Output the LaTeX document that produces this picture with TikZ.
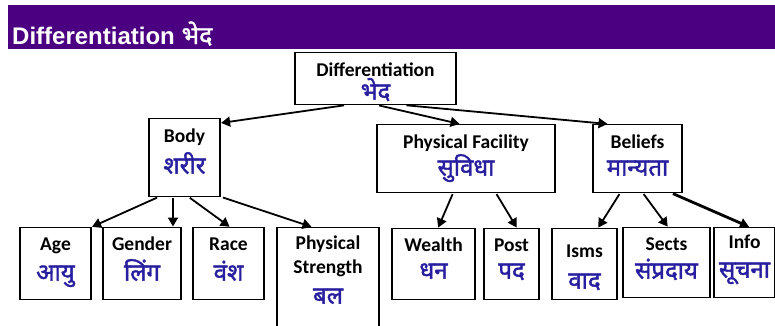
\documentclass[tikz,border=0pt]{standalone}
\usepackage{fontspec}
\setmainfont{Carlito}
\newfontfamily\titlefont{Liberation Sans}
\newfontfamily\hindifont[Script=Devanagari,FakeBold=1.6]{Noto Sans}
\usetikzlibrary{arrows.meta,calc}
\definecolor{barpurple}{RGB}{75,0,130}
\definecolor{hindiblue}{RGB}{40,30,160}
\newcommand{\hin}[1]{{\hindifont\fontsize{24}{0}\selectfont\color{hindiblue}#1}}
\newcommand{\boxfont}{\fontsize{19.5}{0}\selectfont\bfseries\lineskiplimit=-\maxdimen}
\tikzset{
    box/.style =    {rectangle,
                    fill=white,
                    draw=black,
                    text=black,
                    line width=1.2pt,
                    align=center,
                    anchor=north,
                    inner xsep=0pt,
                    inner ysep=0pt,
                    font=\boxfont},
    heading/.style ={anchor=base west,
                    inner sep=0pt,
                    text=white,
                    font=\titlefont\fontsize{24}{28}\selectfont\bfseries},
    link/.style =   {line width=1.8pt,
                    ->},
    -,
    >={Triangle[length=9pt,width=10pt]},
    shorten >= 0.5pt,
    shorten <= 1pt}

\begin{document}
\begin{tikzpicture}[x=1pt,y=-1pt]
    \useasboundingbox (0,0) rectangle (775,325);
    \clip (0,0) rectangle (775,325);
    \fill[barpurple] (8,5) rectangle (775,49);
    \node[heading]  (T)         at (12,44)      {Differentiation {\hindifont\fontsize{25}{28}\selectfont भेद}};
    % top level
    \node[box, minimum width=161, text height=47, text depth=5]  (root)     at (375.5,52)   {Differentiation\\[23pt]\hin{भेद}};
    \node[box, minimum width=71,  text height=55, text depth=23] (body)     at (184.5,118)  {Body\\[31pt]\hin{शरीर}};
    \node[box, minimum width=178, text height=51, text depth=17] (facility) at (466,124)    {Physical Facility\\[27pt]\hin{सुविधा}};
    \node[box, minimum width=89,  text height=51, text depth=17] (beliefs)  at (637.5,124)  {Beliefs\\[27pt]\hin{मान्यता}};
    % bottom row
    \node[box, minimum width=71,  text height=53, text depth=19] (age)      at (55.5,227)   {Age\\[30pt]\hin{आयु}};
    \node[box, minimum width=78,  text height=53, text depth=19] (gender)   at (142,227)    {Gender\\[30pt]\hin{लिंग}};
    \node[box, minimum width=71,  text height=53, text depth=19] (race)     at (228.5,227)  {Race\\[30pt]\hin{वंश}};
    \node[box, minimum width=102, text height=76, text depth=37] (strength) at (328,227)    {Physical\\[24pt]Strength\\[30pt]\hin{बल}};
    \node[box, minimum width=83,  text height=50, text depth=21] (wealth)   at (433.5,228)  {Wealth\\[27pt]\hin{धन}};
    \node[box, minimum width=55,  text height=50, text depth=21] (post)     at (511.5,228)  {Post\\[27pt]\hin{पद}};
    \node[box, minimum width=65,  text height=60, text depth=11] (isms)     at (584.5,228)  {Isms\\[31pt]\hin{वाद}};
    \node[box, minimum width=87,  text height=51, text depth=19] (sects)    at (666.5,227)  {Sects\\[28pt]\hin{संप्रदाय}};
    \node[box, minimum width=61,  text height=50, text depth=20] (info)     at (744.5,227)  {Info\\[29pt]\hin{सूचना}};
    \path [link]    ([xshift=-30.5]root.south)  edge    ([yshift=-5]body.north east)
                    ([xshift=2.5]root.south)    edge    ([xshift=-6]facility.north)
                    ([xshift=30]root.south)     edge    ([xshift=-29.5]beliefs.north)
                    ([xshift=-26.5]body.south)  edge    (age.north east)
                    ([xshift=-11.5]body.south)  edge    ([xshift=31]gender.north)
                    ([xshift=4.5]body.south)    edge    ([xshift=1.5]race.north)
                    ([xshift=37.5]body.south)   edge    ([xshift=-16]strength.north)
                    ([xshift=-13]facility.south) edge   ([xshift=4.5]wealth.north)
                    ([xshift=30]facility.south) edge    ([xshift=5.5]post.north)
                    ([xshift=-17.5]beliefs.south) edge  ([xshift=13.5]isms.north)
                    ([xshift=5.5]beliefs.south) edge    ([xshift=1.5]sects.north)
                    ([xshift=34.5]beliefs.south) edge [line width=2.8pt] ([xshift=5]info.north);
\end{tikzpicture}
\end{document}
